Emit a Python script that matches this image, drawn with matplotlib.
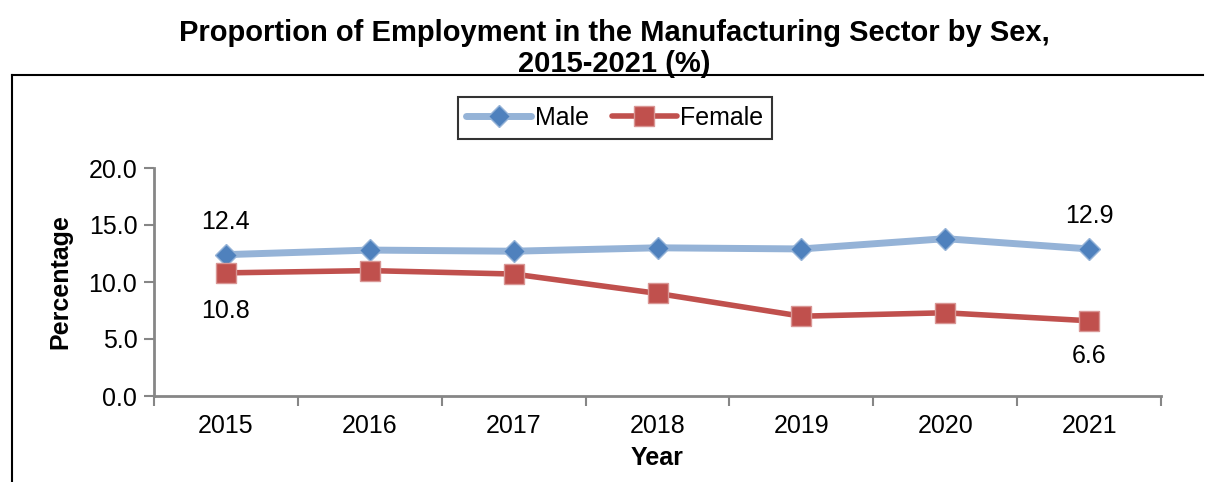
import matplotlib.pyplot as plt
from matplotlib.lines import Line2D

plt.rcParams['font.family'] = ['Liberation Sans', 'DejaVu Sans']

years = ['2015', '2016', '2017', '2018', '2019', '2020', '2021']
male = [12.4, 12.8, 12.7, 13.0, 12.9, 13.8, 12.9]
female = [10.8, 11.0, 10.7, 9.0, 7.0, 7.3, 6.6]

FS = 18

fig = plt.figure(figsize=(12.09, 4.82), dpi=100)
ax = fig.add_axes([154 / 1209, 1 - 396 / 482, (1161 - 154) / 1209, (396 - 168) / 482])

x = list(range(len(years)))
ax.plot(x, male, color='#95B3D7', lw=5, marker='D', ms=11,
        mfc='#4F81BD', mec='#95B3D7', mew=1, label='Male', solid_capstyle='round')
ax.plot(x, female, color='#C0504D', lw=4, marker='s', ms=14,
        mfc='#C0504D', mec='#D99694', mew=1, label='Female', solid_capstyle='round')

# data labels on first and last points
ax.annotate(f'{male[0]:.1f}', (x[0], male[0]), xytext=(0, 15), textcoords='offset points',
            ha='center', va='bottom', fontsize=FS)
ax.annotate(f'{female[0]:.1f}', (x[0], female[0]), xytext=(0, -19), textcoords='offset points',
            ha='center', va='top', fontsize=FS)
ax.annotate(f'{male[-1]:.1f}', (x[-1], male[-1]), xytext=(0, 15), textcoords='offset points',
            ha='center', va='bottom', fontsize=FS)
ax.annotate(f'{female[-1]:.1f}', (x[-1], female[-1]), xytext=(0, -17), textcoords='offset points',
            ha='center', va='top', fontsize=FS)

ax.set_xlim(-0.5, len(years) - 0.5)
ax.set_ylim(0, 20)
ax.set_yticks([0, 5, 10, 15, 20])
ax.set_yticklabels([f'{v:.1f}' for v in [0, 5, 10, 15, 20]])
ax.set_xticks(x)
ax.set_xticklabels(years)
ax.set_xticks([i - 0.5 for i in range(len(years) + 1)], minor=True)
ax.tick_params(axis='x', which='major', length=0, pad=13, labelsize=FS)
ax.tick_params(axis='x', which='minor', length=7, color='#868686', width=1.5)
ax.tick_params(axis='y', length=7, color='#868686', width=1.5, labelsize=FS, pad=5)

for s in ['top', 'right']:
    ax.spines[s].set_visible(False)
for s in ['left', 'bottom']:
    ax.spines[s].set_color('#868686')
    ax.spines[s].set_linewidth(2)

ax.set_ylabel('Percentage', fontsize=FS, fontweight='bold', labelpad=12)
ax.set_xlabel('Year', fontsize=FS, fontweight='bold', labelpad=6)

leg = fig.legend(loc='center', bbox_to_anchor=(615 / 1209, 1 - 118 / 482), ncol=2,
                 fontsize=FS, frameon=True, fancybox=False, edgecolor='black',
                 handlelength=2.6, columnspacing=0.9, handletextpad=0.15, borderpad=0.35)
leg.get_frame().set_linewidth(1.5)

fig.text(0.508, 1 - 33 / 482, 'Proportion of Employment in the Manufacturing Sector by Sex,',
         ha='center', va='center', fontsize=21, fontweight='bold')
fig.text(0.508, 1 - 64 / 482, '2015-2021 (%)',
         ha='center', va='center', fontsize=21, fontweight='bold')

# outer frame lines
fig.add_artist(Line2D([12 / 1209, 1203 / 1209], [1 - 75 / 482] * 2, color='black', lw=1.5))
fig.add_artist(Line2D([12 / 1209, 12 / 1209], [1 - 75 / 482, 0], color='black', lw=1.5))

fig.savefig('out.png', dpi=100)
